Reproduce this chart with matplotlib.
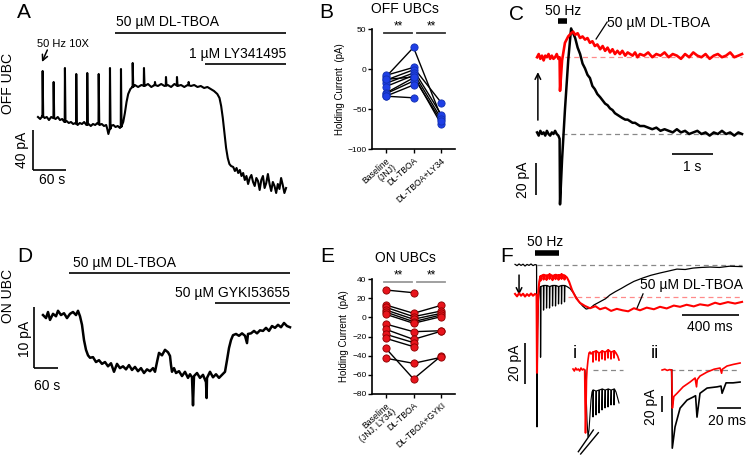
import numpy as np
import matplotlib
matplotlib.use("Agg")
import matplotlib.pyplot as plt

plt.rcParams['font.family'] = ['Liberation Sans', 'DejaVu Sans']
plt.rcParams['lines.solid_joinstyle'] = 'round'

RED = '#ff0000'
BLUE = '#1f3fe6'
DOTRED = '#e8141c'
W, H = 747, 468

# ---------------- DATA ----------------
# Panel A: OFF UBC holding current (s, pA)
A_t = [0, 4, 8, 12, 16, 20, 24, 28, 32, 36, 40, 44, 48, 52, 56, 60, 64, 68, 72, 76, 80, 84, 88, 92, 96, 100, 104, 108, 112, 116, 120, 124,
       126, 128, 130, 133, 137, 141, 145, 149, 152, 155, 158, 161, 164, 168, 172,
       176, 182, 188, 194, 200, 206, 212, 218, 224, 230, 236, 242, 248, 254, 260, 266, 272, 278, 284, 290, 296, 302, 308,
       314, 320, 326, 330, 333, 336, 339, 342, 345, 348, 351,
       355, 358, 361, 364, 367, 370, 373, 376, 379, 382, 385, 388, 391, 394, 397, 400, 403, 406, 409, 412, 415, 418, 421, 424, 427, 430, 433, 436, 439, 442, 445, 448, 451]
A_i = [1, -1, 2, 0, 1, -2, 1, 0, -1, 1, -2, -1, -4, -3, -5, -4, -6, -5, -7, -5, -6, -4, -7, -6, -8, -6, -7, -5, -7, -6, -8, -7,
       -11, -16, -12, -8, -7, -9, -8, -10, -8, -4, 5, 16, 24, 29, 31,
       33, 31, 33, 32, 34, 31, 33, 32, 34, 32, 33, 31, 34, 32, 33, 31, 33, 32, 33, 31, 32, 30, 31,
       29, 27, 24, 20, 12, 0, -15, -30, -40, -46, -48,
       -49, -53, -50, -55, -52, -58, -55, -62, -58, -66, -60, -57, -64, -68, -60, -63, -72, -62, -58, -70, -65, -56, -66, -73, -64, -68, -75, -66, -71, -60, -67, -75, -70]
A_spk_t = [8.5, 28.5, 49, 69.6, 89.6, 110.4, 130.9, 150.9, 172.2, 192.7, 212.7, 232.7, 252.7, 273.9]
A_spk_peak = [47, 36, 50, 44, 45, 44, 50, 49, 55, 50, 36, 41, 41, 36]
A_tboa = (140, 451)
A_ly = (304, 451)

# Panel B: OFF UBCs holding current (pA)
cats_B = ['Baseline\n(JNJ)', 'DL-TBOA', 'DL-TBOA+LY34']
B_base = [-10, -8, -14, -18, -22, -30, -31, -34, -34, -13]
B_tboa = [27, 2, -1, -5, -8, -11, -15, -20, -36, -10]
B_ly = [-60, -42, -57, -62, -69, np.nan, np.nan, np.nan, np.nan, -65]

# Panel C: 50 Hz response (s, pA)
C_t = [-0.56, -0.52, -0.48, -0.44, -0.40, -0.36, -0.32, -0.28, -0.24, -0.20, -0.16, -0.12, -0.08, -0.04, -0.01,
       0.0, 0.05, 0.12, 0.2, 0.27,
       0.32, 0.37, 0.43, 0.49, 0.55, 0.61, 0.67, 0.73, 0.79, 0.85, 0.91, 0.98, 1.04, 1.1, 1.16, 1.22, 1.28, 1.34, 1.4, 1.46,
       1.52, 1.59, 1.65, 1.71, 1.77, 1.83, 1.89, 1.95,
       2.05, 2.15, 2.25, 2.35, 2.45, 2.55, 2.65, 2.75, 2.85, 2.95, 3.05, 3.15, 3.25, 3.35, 3.45, 3.55, 3.65, 3.75, 3.85,
       3.95, 4.05, 4.15, 4.25, 4.35, 4.44]
C_black = [1, -1, 2, 0, 1, -1, 2, 0, -1, 1, 0, 2, 0, -1, -3,
           -44, -16, 15, 46, 66,
           63, 60, 54, 50, 44, 41, 37, 35, 30, 28, 25, 23, 21, 19, 18, 16, 15, 13, 12, 11, 10, 9, 9, 8, 7, 7, 6, 5,
           5, 4, 3, 4, 2, 3, 2, 1, 3, 1, 2, 0, 1, 2, 0, 1, -1, 1, 0, 2, 0, 1, -1, 1, 0]
C_red = [0, 2, -1, 1, -2, 1, 0, 2, -1, 1, -1, 0, 2, -1, 0,
         -21, -2, 9, 13, 15,
         16, 14, 15, 12, 13, 11, 12, 9, 10, 7, 8, 5, 7, 4, 6, 3, 5, 2, 4, 2, 4, 1, 3, 2, 1, 3, 0, 2,
         1, 3, 0, 2, 1, 3, 0, 2, 1, -1, 2, 0, 3, 1, 0, 2, -1, 1, 2, 0, 1, 3, 0, 1, 2]
C_stim = (-0.05, 0.17)

# Panel D: ON UBC holding current (s, pA)
D_t = [0, 7.5, 12.5, 17.5, 25, 32.5, 37.5, 45, 52.5, 60, 67.5, 75, 82.5, 87.5, 92.5, 97.5, 102.5, 107.5, 112.5, 117.5,
       125, 132.5, 140, 147.5, 155, 162.5, 170, 177.5, 185, 192.5, 200, 207.5, 215, 222.5, 230, 237.5, 245, 252.5, 260, 267.5,
       275, 280, 285, 290, 297.5, 305, 312.5, 317.5, 320, 322.5, 327.5, 332.5, 340, 347.5, 355, 362.5, 367.5, 372.5, 375, 377.5,
       385, 392.5, 400, 407.5, 409, 410, 417.5, 425, 432.5, 440, 447.5, 455, 460, 465, 470, 475, 482.5, 490, 497.5, 505,
       510, 512.5, 520, 527.5, 535, 542.5, 550, 557.5, 565, 572.5, 580, 587.5, 595, 602.5, 610, 617.5]
D_i = [0, -0.5, 0.5, -0.8, 0.2, -0.2, 0.7, 0, 0.3, -0.5, 0.2, 0.5, 0, 0.7, -0.2, -1.6, -4.1, -5.7, -6.6, -7.0,
       -6.9, -7.7, -7.4, -8.0, -7.7, -8.4, -7.9, -9.3, -8.0, -8.7, -8.4, -8.9, -8.2, -9.0, -8.5, -9.2, -8.7, -9.5, -8.9, -9.2,
       -8.7, -9.3, -7.7, -6.2, -6.6, -5.7, -6.1, -6.7, -8.2, -9.3, -8.7, -9.5, -9.2, -10.0, -9.3, -10.3, -9.7, -10.2, -14.8, -10.0,
       -9.5, -10.3, -9.8, -11.0, -13.6, -10.3, -9.3, -10.2, -9.7, -10.3, -9.8, -9.3, -7.4, -5.4, -4.1, -3.3, -3.1, -3.4, -3.0, -3.4,
       -4.6, -3.1, -3.0, -2.6, -3.0, -2.5, -2.6, -2.1, -2.6, -1.8, -2.1, -1.6, -2.0, -1.3, -1.8, -2.0]
D_tboa = (65, 617.5)
D_gyki = (430, 617.5)

# Panel E: ON UBCs holding current (pA)
cats_E = ['Baseline\n(JNJ, LY34)', 'DL-TBOA', 'DL-TBOA+GYKI']
E_base = [28.5, 12.9, 10.5, 7.7, 5.5, 3.2, -7, -12.5, -17.7, -21.9, -32.3, -42.7]
E_tboa = [25.7, 4.2, 0.7, -2, -4.5, -6.2, -15, -23, -26.4, -30.6, -64.3, -48]
E_gyki = [np.nan, 12.5, 6.6, 4.2, 2.5, 0.7, -14, -14.5, np.nan, np.nan, -40.3, -41.7]

# Panel F: 50 Hz response (ms, pA)
F_pre_t = [-154, -140, -126, -112, -98, -84, -70, -56, -42, -28, -14, -3]
F_bk_pre = [0.3, -0.3, 0.5, -0.2, 0.4, -0.5, 0.3, -0.2, 0.5, -0.3, 0.2, 0]
F_rd_pre = [1.5, 0.3, 1.8, 0.6, 1.6, 0.2, 1.4, 0.5, 1.7, 0.6, 1.5, 1]
F_bk_on_t = [0, 4, 10, 18]
F_bk_on = [-79, -32, -17, -11]
F_rd_on_t = [0, 3, 6, 10, 16, 22]
F_rd_on = [-37, -20, -5, 3, 7.5, 9.5]
F_spk_t = [25, 46, 67, 88, 109, 130, 151, 172, 193]
F_bk_plat = [-10.5, -10, -10, -10.5, -10, -10, -10.5, -10, -10]
F_bk_trough = [-45, -22, -21, -21, -20, -20, -19, -19, -18]
F_rd_plat = [10.2, 10.8, 10.4, 11, 10.3, 10.8, 10.5, 11, 10.4]
F_rd_trough = [8, 8.5, 8.3, 8.8, 8.2, 8.7, 8.4, 8.8, 8.5]
F_bk_post_t = [210, 232, 260, 290, 320, 345, 375, 400, 440, 480, 512, 550, 590, 632, 680, 744, 800, 863, 920, 982,
               1040, 1095, 1150, 1214, 1280, 1350, 1439]
F_bk_post = [-10.5, -11.5, -14, -17.5, -20, -21.5, -21, -19.5, -18, -16.5, -14.6, -13, -11.5, -9.8, -8, -6.3, -5, -3.9, -3, -2,
             -2.2, -1.5, -1.2, -1, -1.2, -0.6, -0.8]
F_rd_post_t = [210, 225, 246, 274, 302, 337, 372, 410, 442, 480, 520, 560, 600, 640, 680, 723, 770, 820, 863, 910,
               960, 1004, 1050, 1100, 1144, 1200, 1250, 1284, 1340, 1390, 1439]
F_rd_post = [9.5, 7.5, 3.4, -0.5, -2.9, -4.4, -5.5, -4.5, -6, -5.2, -6.8, -5.8, -6.5, -7, -5.5, -6.5, -5.2, -6, -4.8, -5.6,
             -4.2, -4.8, -3.8, -4.6, -3.6, -4.2, -2.8, -3.5, -2.5, -3.2, -2.4]
F_stim = (-14, 154)

# Inset i (ms, pA)
i_pre_t = [-72, -64, -56, -48, -40, -32, -24, -16, -8, -2]
i_rd_pre = [1, -1, 2, 0, 1, -1, 2, 0, 1, 0]
i_rd_on_t = [0, 3, 6, 9, 12, 18, 24, 30, 36]
i_rd_on = [-30, -63, -40, -10, 0, 10, 17, 18, 16]
i_bk_on_t = [0, 6, 12, 18, 24, 30, 36, 42]
i_bk_on = [0, -20, -50, -67, -60, -45, -30, -22]
i_spk_t = [48, 66, 84, 102, 120, 138, 156, 174]
i_rd_plat = [18, 19, 17, 19, 18, 20, 18, 19]
i_rd_trough = [8, 10, 9, 11, 10, 12, 11, 12]
i_bk_plat = [-20, -21, -20, -19, -20, -19, -20, -19]
i_bk_trough = [-47, -45, -43, -40, -38, -37, -35, -35]
i_end_t = [186, 196, 204]
i_rd_end = [17, 14, 10]
i_bk_end = [-22, -28, -33]

# Inset ii (ms, pA)
ii_rd_t = [-8.3, -6, -4, -2, -0.3, 0.3, 1.5, 4.2, 9.2, 15, 19.2, 20.4, 21, 23.3, 29.2, 35, 40, 41.3, 41.9, 45.8, 51, 56.7]
ii_rd = [0, 1, -0.5, 0.5, 0, -47.5, -33, -29, -21, -15, -10, -21, -12, -7.5, -2.5, 1, 2.5, -4, 1, 5, 7, 8.75]
ii_bk_t = [-0.3, 0.2, 2.5, 6.7, 12.5, 17.5, 19.6, 20.8, 23.3, 29.2, 37.5, 40.8, 41.7, 45, 50.8, 56.7]
ii_bk = [0, -97.5, -71, -47.5, -37.5, -33.75, -32, -58.75, -29, -22.5, -21, -20, -29, -16, -16, -15]

# ---------------- FIGURE ----------------
fig = plt.figure(figsize=(W / 100, H / 100), dpi=100)


def px_axes(x0, y0, x1, y1):
    return fig.add_axes([x0 / W, 1 - y1 / H, (x1 - x0) / W, (y1 - y0) / H])


def trace_ax(box, xlim, ylim):
    ax = px_axes(*box)
    ax.set_xlim(*xlim)
    ax.set_ylim(*ylim)
    ax.axis('off')
    return ax


def ftext(x, y, s, **kw):
    kw.setdefault('ha', 'center')
    kw.setdefault('va', 'center')
    fig.text(x / W, 1 - y / H, s, **kw)


def hline(ax, x0, x1, y, **kw):
    kw.setdefault('color', 'k')
    kw.setdefault('lw', 1.2)
    ax.plot([x0, x1], [y, y], clip_on=False, solid_capstyle='butt', **kw)


def vline(ax, x, y0, y1, **kw):
    kw.setdefault('color', 'k')
    kw.setdefault('lw', 1.2)
    ax.plot([x, x], [y0, y1], clip_on=False, solid_capstyle='butt', **kw)


def build_train(t0, v0, spk_t, plat, trough, t1, v1, w=1.0, back=4.0):
    t = list(t0)
    v = list(v0)
    for ts, p, tr in zip(spk_t, plat, trough):
        t += [ts - w, ts, ts + back]
        v += [p, tr, p]
    return t + list(t1), v + list(v1)


# Panel letters
for lx, ly, s in [(24, 13, 'A'), (326, 12, 'B'), (517, 14, 'C'), (25, 257, 'D'), (327, 256, 'E'), (507, 256, 'F')]:
    ftext(lx, ly, s, size=15)

# ---- Panel A ----
axA = trace_ax((30, 20, 292, 200), (-14.5, 461.8), (-82, 98))
pts = list(zip(A_t, A_i))
for ts, pk in zip(A_spk_t, A_spk_peak):
    b = float(np.interp(ts, A_t, A_i))
    pts += [(ts - 0.4, b), (ts, pk), (ts + 1.0, b)]
pts.sort()
axA.plot([p[0] for p in pts], [p[1] for p in pts], color='k', lw=1.5)
vline(axA, -9, -12, -52)
hline(axA, -9, 51, -52)
hline(axA, A_tboa[0], A_tboa[1], 85)
hline(axA, A_ly[0], A_ly[1], 54)
axA.annotate('', xy=(7.3, 56), xytext=(17, 68),
             arrowprops=dict(arrowstyle='->', lw=1.1, color='k', shrinkA=0, shrinkB=0))
ftext(168, 22, '50 µM DL-TBOA', size=10)
ftext(286, 54, '1 µM LY341495', size=10, ha='right')
ftext(37, 44, '50 Hz 10X', size=8, ha='left')
ftext(8, 84, 'OFF UBC', size=10, rotation=90)
ftext(22, 150, '40 pA', size=10, rotation=90)
ftext(52, 180, '60 s', size=10)


# ---- Panels B and E ----
def scatter_panel(box, base, tboa, third, ylim, yticks, cats, color, edge, sig_y, sig_color):
    ax = px_axes(*box)
    ax.set_xlim(-0.5, 2.5)
    ax.set_ylim(*ylim)
    for s in ['top', 'right']:
        ax.spines[s].set_visible(False)
    for s in ['left', 'bottom']:
        ax.spines[s].set_linewidth(1.2)
    ax.set_yticks(yticks)
    ax.set_xticks([0, 1, 2])
    ax.set_xticklabels(cats, rotation=42, ha='right', rotation_mode='anchor', fontsize=6.2, linespacing=0.95)
    ax.tick_params(axis='y', labelsize=6, length=3, width=1, pad=1)
    ax.tick_params(axis='x', length=3, width=1, pad=2)
    ax.set_ylabel('Holding Current  (pA)', fontsize=7, labelpad=2)
    vals = np.array([base, tboa, third], dtype=float)
    for k in range(vals.shape[1]):
        ax.plot([0, 1, 2], vals[:, k], color='k', lw=1.0, zorder=2, clip_on=False)
    for j in range(3):
        ax.plot(np.full(vals.shape[1], j), vals[j], 'o', ms=5.2, mfc=color, mec=edge, mew=0.6, zorder=3,
                clip_on=False, ls='none')
    ax.plot([-0.07, 0.95], [sig_y, sig_y], color=sig_color, lw=1.3, clip_on=False)
    ax.plot([1.13, 2.15], [sig_y, sig_y], color=sig_color, lw=1.3, clip_on=False)
    return ax


axB = scatter_panel((372, 29, 455, 149), B_base, B_tboa, B_ly, (-100, 50), [-100, -50, 0, 50], cats_B,
                    BLUE, '#1230b0', 45, '#333333')
axB.text(0.44, 46, '**', ha='center', va='bottom', fontsize=8.5)
axB.text(1.64, 46, '**', ha='center', va='bottom', fontsize=8.5)
ftext(405, 9, 'OFF UBCs', size=10)

axE = scatter_panel((372, 279, 455, 394), E_base, E_tboa, E_gyki, (-80, 40), [-80, -60, -40, -20, 0, 20, 40], cats_E,
                    DOTRED, '#8a0000', 36.9, '#999999')
axE.text(0.44, 37.6, '**', ha='center', va='bottom', fontsize=8.5)
axE.text(1.64, 37.6, '**', ha='center', va='bottom', fontsize=8.5)
ftext(405, 258, 'ON UBCs', size=10)

# ---- Panel C ----
axC = trace_ax((515, 15, 745, 210), (-1.098, 4.512), (-47.5, 74.4))
C_off = 48
axC.plot(C_t, C_black, color='k', lw=1.8, zorder=3)
axC.plot(C_t, np.array(C_red) + C_off, color=RED, lw=1.9, zorder=4)
axC.plot([0.05, 4.44], [0, 0], color='#888888', lw=0.9, ls=(0, (4, 3)), zorder=2)
axC.plot([0.12, 4.44], [C_off, C_off], color='#ff8a8a', lw=0.9, ls=(0, (4, 3)), zorder=2)
hline(axC, C_stim[0], C_stim[1], 70.6, lw=4)
vline(axC, -0.585, -18.1, -38.1)
hline(axC, 2.73, 3.73, -12.5)
axC.annotate('', xy=(-0.54, 38.7), xytext=(-0.54, 8.7),
             arrowprops=dict(arrowstyle='->', lw=1.1, color='k', shrinkA=0, shrinkB=0))
axC.plot([1.15, 0.88], [70, 59.4], color='k', lw=0.9)
ftext(563, 11, '50 Hz', size=10)
ftext(607, 23, '50 µM DL-TBOA', size=10, ha='left')
ftext(692, 167, '1 s', size=10)
ftext(523, 180, '20 pA', size=10, rotation=90)

# ---- Panel D ----
axD = trace_ax((28, 250, 295, 420), (-37.5, 630), (-17.2, 10.66))
axD.plot(D_t, D_i, color='k', lw=1.8)
vline(axD, -22.5, 1.3, -8.7)
hline(axD, -22.5, 37.5, -8.7)
hline(axD, D_tboa[0], D_tboa[1], 6.9)
hline(axD, D_gyki[0], D_gyki[1], 2.0)
ftext(124, 263, '50 µM DL-TBOA', size=10)
ftext(290, 293, '50 µM GYKI53655', size=10, ha='right')
ftext(8, 296, 'ON UBC', size=10, rotation=90)
ftext(25, 339, '10 pA', size=10, rotation=90)
ftext(47, 386, '60 s', size=10)

# ---- Panel F ----
axF = trace_ax((512, 240, 745, 440), (-175.4, 1459.6), (-85.4, 12.2))
F_off = -15.6
bt, bv = build_train(F_pre_t + F_bk_on_t, F_bk_pre + F_bk_on, F_spk_t, F_bk_plat, F_bk_trough,
                     F_bk_post_t, F_bk_post, w=0.6, back=2.5)
rt, rv = build_train(F_pre_t + F_rd_on_t, F_rd_pre + F_rd_on, F_spk_t, F_rd_plat, F_rd_trough,
                     F_rd_post_t, F_rd_post, w=0.6, back=2.5)
axF.plot(bt, bv, color='k', lw=0.9, zorder=3)
axF.plot(rt, np.array(rv) + F_off, color=RED, lw=1.5, zorder=4)
axF.plot([0, 1439], [0, 0], color='#888888', lw=0.9, ls=(0, (4, 3)), zorder=2)
axF.plot([215, 1439], [F_off, F_off], color='#ff8a8a', lw=0.9, ls=(0, (4, 3)), zorder=2)
hline(axF, F_stim[0], F_stim[1], 5.85, lw=4)
axF.annotate('', xy=(-126, -14.6), xytext=(-126, -4.9),
             arrowprops=dict(arrowstyle='->', lw=1.1, color='k', shrinkA=0, shrinkB=0))
hline(axF, 1018, 1418, -24.4)
vline(axF, -84, -38, -58)
axF.plot([744, 702], [-14.1, -21], color='k', lw=0.9, zorder=5)
ftext(545, 242, '50 Hz', size=10)
ftext(640, 285, '50 µM DL-TBOA', size=10, ha='left')
ftext(710, 327, '400 ms', size=10)
ftext(515, 363, '20 pA', size=10, rotation=90)

# inset i
axi = trace_ax((570, 345, 625, 455), (-90, 240), (-85, 25))
it_b, iv_b = build_train(i_bk_on_t, i_bk_on, i_spk_t, i_bk_plat, i_bk_trough, i_end_t, i_bk_end, w=0.8, back=3)
it_r, iv_r = build_train(i_pre_t + i_rd_on_t, i_rd_pre + i_rd_on, i_spk_t, i_rd_plat, i_rd_trough, i_end_t, i_rd_end,
                         w=0.8, back=3)
axi.plot(it_b, iv_b, color='k', lw=0.8, zorder=3)
axi.plot(it_r, iv_r, color=RED, lw=1.2, zorder=4)
axi.plot([48, 228], [0, 0], color='#888888', lw=0.9, ls=(0, (4, 3)), zorder=2)
axi.plot([-40, 50], [-81.7, -60], color='k', lw=1.0, clip_on=False)
axi.plot([-26, 80], [-84, -62.7], color='k', lw=1.0, clip_on=False)
ftext(575, 354, 'i', size=13)

# inset ii
axii = trace_ax((655, 355, 745, 455), (-14.2, 60.8), (-106, 18.75))
axii.plot(ii_bk_t, ii_bk, color='k', lw=1.2, zorder=3)
axii.plot(ii_rd_t, ii_rd, color=RED, lw=1.2, zorder=4)
axii.plot([-1.7, 56.7], [0, 0], color='#888888', lw=0.9, ls=(0, (4, 3)), zorder=2)
vline(axii, -8.3, -32.5, -52.5)
hline(axii, 37.5, 57.5, -47.5)
ftext(655, 354, 'ii', size=13)
ftext(651, 407, '20 pA', size=10, rotation=90)
ftext(727, 421, '20 ms', size=10)

fig.savefig('out.png', dpi=100)
